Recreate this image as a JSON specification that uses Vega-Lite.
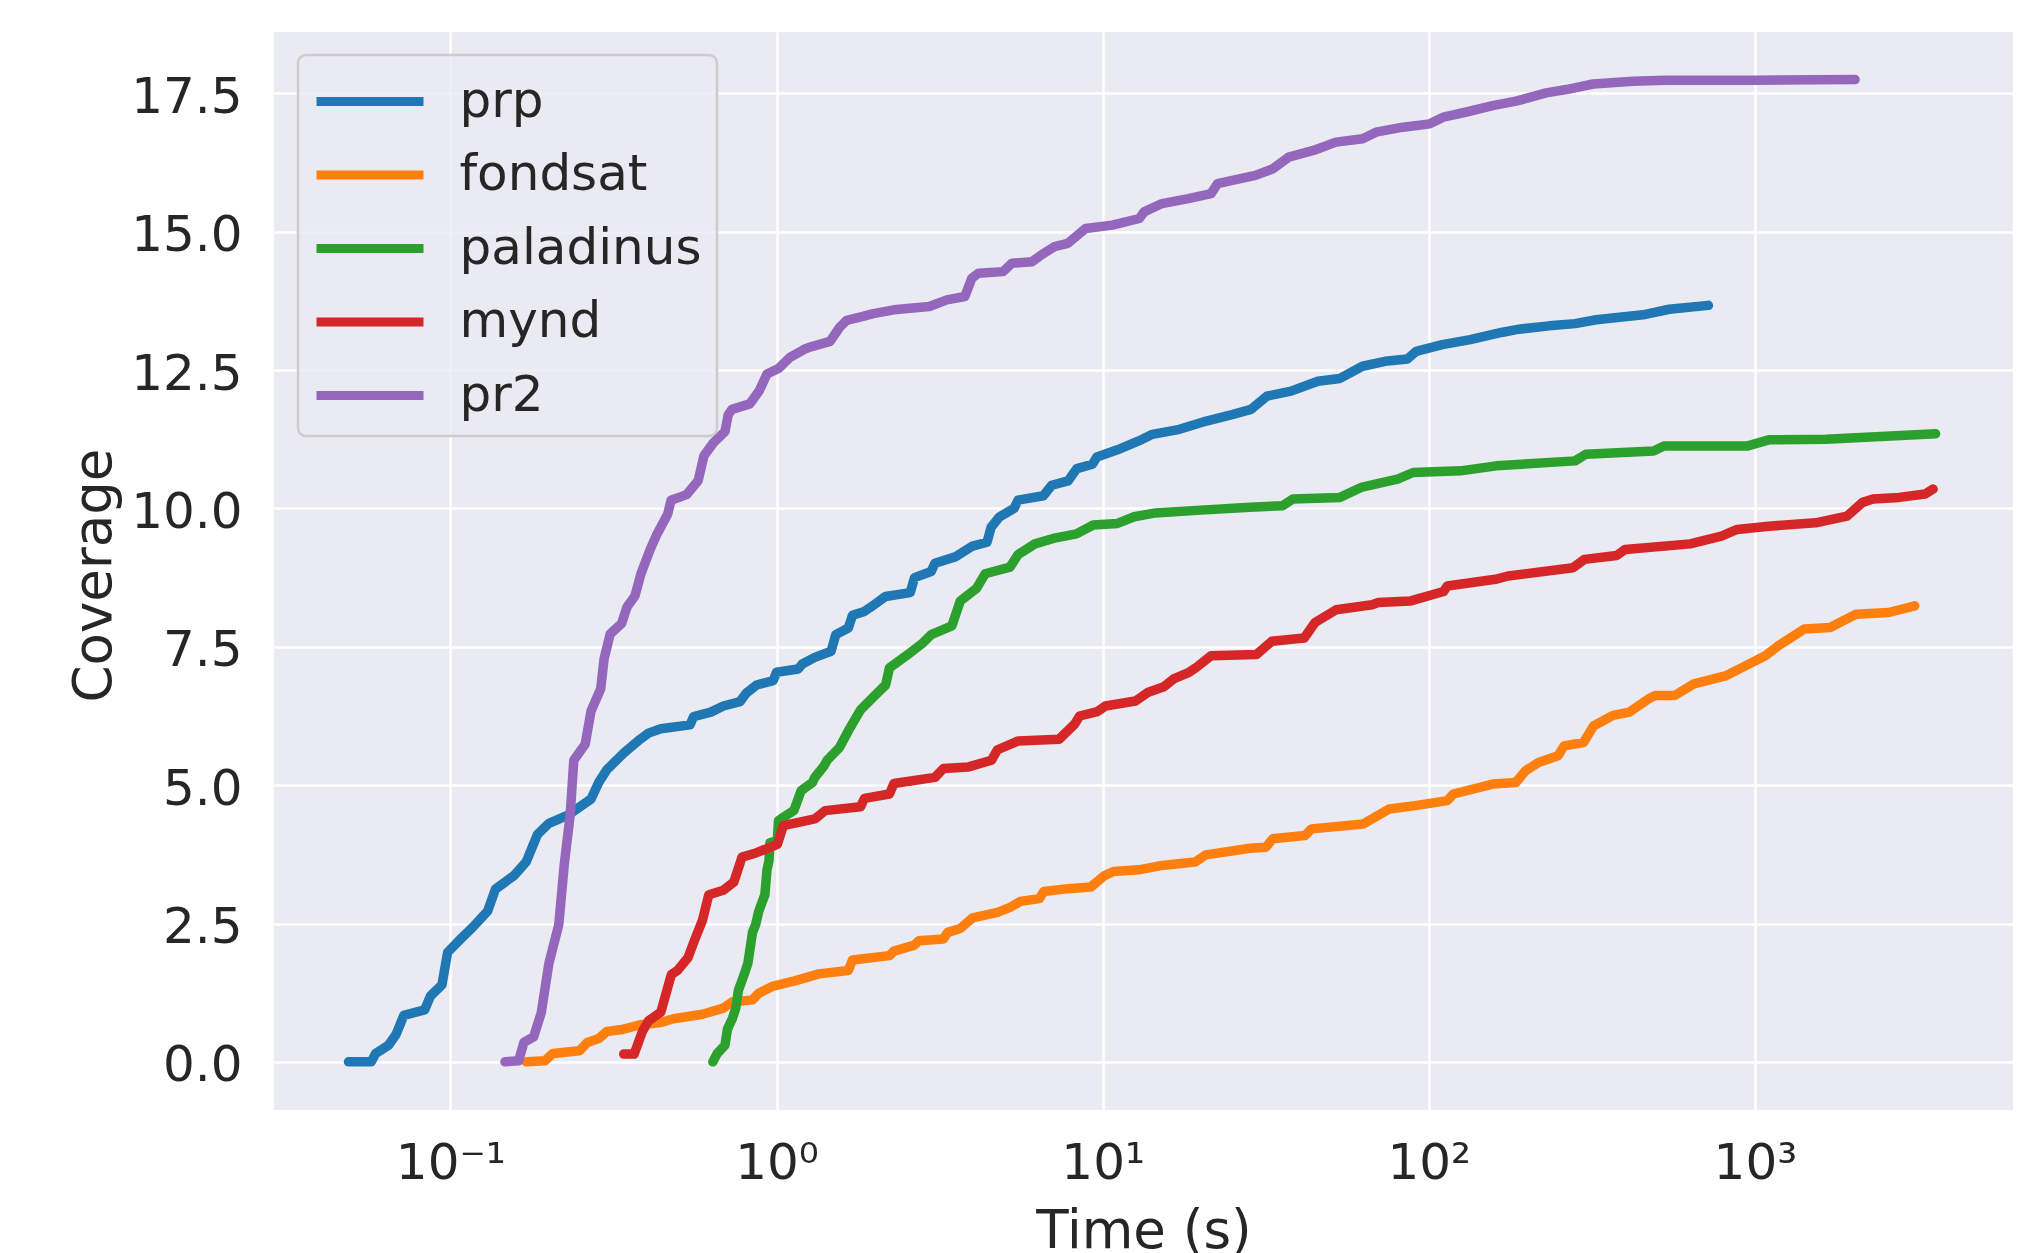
{
  "$schema": "https://vega.github.io/schema/vega-lite/v6.json",
  "width": 1739,
  "height": 1078,
  "autosize": {"type": "none"},
  "padding": {"left": 274, "top": 32, "right": 4, "bottom": 143},
  "background": "white",
  "config": {
    "view": {"fill": "#EAEAF2", "stroke": null},
    "axis": {
      "gridColor": "white", "gridWidth": 2.5, "gridOpacity": 1,
      "domain": false, "ticks": false, "tickSize": 0,
      "labelFont": "DejaVu Sans", "labelColor": "#262626", "labelFontSize": 50,
      "titleFont": "DejaVu Sans", "titleColor": "#262626", "titleFontSize": 53, "titleFontWeight": "normal"
    },
    "legend": {
      "orient": "none", "legendX": 24, "legendY": 23,
      "symbolType": "M-2,0H2", "symbolSize": 2862, "symbolStrokeWidth": 9,
      "labelFont": "DejaVu Sans", "labelFontSize": 50, "labelColor": "#262626", "labelLimit": 0,
      "padding": 15, "rowPadding": 16.5, "symbolOffset": 25.5, "labelOffset": 58,
      "fillColor": "rgba(234,234,242,0.8)", "strokeColor": "#cccccc", "strokeWidth": 2.5, "cornerRadius": 8
    }
  },
  "data": {"values": [
    {"s":"prp","t":0.0487,"c":0},{"s":"prp","t":0.0572,"c":0},{"s":"prp","t":0.059,"c":0.15},{"s":"prp","t":0.0646,"c":0.3},{"s":"prp","t":0.0682,"c":0.5},{"s":"prp","t":0.072,"c":0.84},{"s":"prp","t":0.0834,"c":0.94},{"s":"prp","t":0.0869,"c":1.19},{"s":"prp","t":0.0942,"c":1.39},{"s":"prp","t":0.0981,"c":1.98},{"s":"prp","t":0.108,"c":2.23},{"s":"prp","t":0.117,"c":2.43},{"s":"prp","t":0.13,"c":2.72},{"s":"prp","t":0.1375,"c":3.12},{"s":"prp","t":0.157,"c":3.37},{"s":"prp","t":0.171,"c":3.62},{"s":"prp","t":0.185,"c":4.11},{"s":"prp","t":0.2005,"c":4.31},{"s":"prp","t":0.2295,"c":4.46},{"s":"prp","t":0.27,"c":4.75},{"s":"prp","t":0.285,"c":5.05},{"s":"prp","t":0.302,"c":5.28},{"s":"prp","t":0.34,"c":5.58},{"s":"prp","t":0.382,"c":5.83},{"s":"prp","t":0.405,"c":5.94},{"s":"prp","t":0.442,"c":6.02},{"s":"prp","t":0.543,"c":6.09},{"s":"prp","t":0.557,"c":6.24},{"s":"prp","t":0.629,"c":6.32},{"s":"prp","t":0.687,"c":6.43},{"s":"prp","t":0.773,"c":6.51},{"s":"prp","t":0.807,"c":6.66},{"s":"prp","t":0.869,"c":6.81},{"s":"prp","t":0.977,"c":6.89},{"s":"prp","t":1.0,"c":7.04},{"s":"prp","t":1.165,"c":7.1},{"s":"prp","t":1.2,"c":7.19},{"s":"prp","t":1.31,"c":7.31},{"s":"prp","t":1.47,"c":7.42},{"s":"prp","t":1.52,"c":7.72},{"s":"prp","t":1.66,"c":7.84},{"s":"prp","t":1.71,"c":8.07},{"s":"prp","t":1.86,"c":8.14},{"s":"prp","t":1.98,"c":8.25},{"s":"prp","t":2.16,"c":8.41},{"s":"prp","t":2.57,"c":8.48},{"s":"prp","t":2.65,"c":8.75},{"s":"prp","t":2.98,"c":8.86},{"s":"prp","t":3.06,"c":9.01},{"s":"prp","t":3.55,"c":9.13},{"s":"prp","t":3.99,"c":9.32},{"s":"prp","t":4.42,"c":9.39},{"s":"prp","t":4.55,"c":9.66},{"s":"prp","t":4.83,"c":9.85},{"s":"prp","t":5.35,"c":10.0},{"s":"prp","t":5.5,"c":10.15},{"s":"prp","t":6.58,"c":10.23},{"s":"prp","t":6.98,"c":10.42},{"s":"prp","t":7.84,"c":10.5},{"s":"prp","t":8.33,"c":10.72},{"s":"prp","t":9.3,"c":10.8},{"s":"prp","t":9.6,"c":10.93},{"s":"prp","t":11.1,"c":11.06},{"s":"prp","t":12.9,"c":11.22},{"s":"prp","t":14.2,"c":11.34},{"s":"prp","t":17.2,"c":11.43},{"s":"prp","t":20.8,"c":11.58},{"s":"prp","t":25.1,"c":11.7},{"s":"prp","t":28.5,"c":11.79},{"s":"prp","t":31.9,"c":12.03},{"s":"prp","t":37.8,"c":12.12},{"s":"prp","t":45.7,"c":12.3},{"s":"prp","t":53.4,"c":12.35},{"s":"prp","t":62.6,"c":12.57},{"s":"prp","t":73.4,"c":12.66},{"s":"prp","t":86,"c":12.7},{"s":"prp","t":91.5,"c":12.84},{"s":"prp","t":110,"c":12.96},{"s":"prp","t":134,"c":13.05},{"s":"prp","t":167,"c":13.18},{"s":"prp","t":189,"c":13.24},{"s":"prp","t":234,"c":13.3},{"s":"prp","t":281,"c":13.34},{"s":"prp","t":326,"c":13.41},{"s":"prp","t":454,"c":13.5},{"s":"prp","t":546,"c":13.6},{"s":"prp","t":720,"c":13.67},
    {"s":"fondsat","t":0.171,"c":0},{"s":"fondsat","t":0.195,"c":0.02},{"s":"fondsat","t":0.206,"c":0.15},{"s":"fondsat","t":0.249,"c":0.2},{"s":"fondsat","t":0.263,"c":0.35},{"s":"fondsat","t":0.285,"c":0.42},{"s":"fondsat","t":0.302,"c":0.55},{"s":"fondsat","t":0.34,"c":0.59},{"s":"fondsat","t":0.382,"c":0.67},{"s":"fondsat","t":0.442,"c":0.71},{"s":"fondsat","t":0.483,"c":0.78},{"s":"fondsat","t":0.593,"c":0.86},{"s":"fondsat","t":0.687,"c":0.97},{"s":"fondsat","t":0.73,"c":1.08},{"s":"fondsat","t":0.844,"c":1.12},{"s":"fondsat","t":0.882,"c":1.24},{"s":"fondsat","t":0.977,"c":1.37},{"s":"fondsat","t":1.13,"c":1.46},{"s":"fondsat","t":1.35,"c":1.59},{"s":"fondsat","t":1.66,"c":1.65},{"s":"fondsat","t":1.71,"c":1.84},{"s":"fondsat","t":2.22,"c":1.92},{"s":"fondsat","t":2.29,"c":2.0},{"s":"fondsat","t":2.65,"c":2.11},{"s":"fondsat","t":2.73,"c":2.19},{"s":"fondsat","t":3.25,"c":2.22},{"s":"fondsat","t":3.35,"c":2.34},{"s":"fondsat","t":3.66,"c":2.41},{"s":"fondsat","t":3.99,"c":2.6},{"s":"fondsat","t":4.76,"c":2.7},{"s":"fondsat","t":5.2,"c":2.79},{"s":"fondsat","t":5.6,"c":2.9},{"s":"fondsat","t":6.4,"c":2.95},{"s":"fondsat","t":6.6,"c":3.08},{"s":"fondsat","t":7.84,"c":3.13},{"s":"fondsat","t":9.2,"c":3.16},{"s":"fondsat","t":10.1,"c":3.36},{"s":"fondsat","t":10.8,"c":3.44},{"s":"fondsat","t":12.9,"c":3.47},{"s":"fondsat","t":15.2,"c":3.55},{"s":"fondsat","t":19.2,"c":3.61},{"s":"fondsat","t":20.7,"c":3.74},{"s":"fondsat","t":28.3,"c":3.86},{"s":"fondsat","t":31.7,"c":3.88},{"s":"fondsat","t":33.2,"c":4.03},{"s":"fondsat","t":41.7,"c":4.09},{"s":"fondsat","t":43.7,"c":4.21},{"s":"fondsat","t":63,"c":4.3},{"s":"fondsat","t":75.7,"c":4.57},{"s":"fondsat","t":90.8,"c":4.63},{"s":"fondsat","t":114,"c":4.72},{"s":"fondsat","t":119,"c":4.84},{"s":"fondsat","t":157,"c":5.02},{"s":"fondsat","t":185,"c":5.05},{"s":"fondsat","t":198,"c":5.26},{"s":"fondsat","t":217,"c":5.41},{"s":"fondsat","t":249,"c":5.53},{"s":"fondsat","t":260,"c":5.71},{"s":"fondsat","t":298,"c":5.77},{"s":"fondsat","t":320,"c":6.07},{"s":"fondsat","t":367,"c":6.26},{"s":"fondsat","t":412,"c":6.32},{"s":"fondsat","t":472,"c":6.56},{"s":"fondsat","t":495,"c":6.62},{"s":"fondsat","t":567,"c":6.62},{"s":"fondsat","t":650,"c":6.83},{"s":"fondsat","t":746,"c":6.92},{"s":"fondsat","t":817,"c":6.98},{"s":"fondsat","t":938,"c":7.16},{"s":"fondsat","t":1076,"c":7.34},{"s":"fondsat","t":1180,"c":7.52},{"s":"fondsat","t":1292,"c":7.67},{"s":"fondsat","t":1416,"c":7.82},{"s":"fondsat","t":1702,"c":7.85},{"s":"fondsat","t":1864,"c":7.97},{"s":"fondsat","t":2042,"c":8.09},{"s":"fondsat","t":2570,"c":8.12},{"s":"fondsat","t":3090,"c":8.24},
    {"s":"paladinus","t":0.638,"c":0},{"s":"paladinus","t":0.658,"c":0.15},{"s":"paladinus","t":0.695,"c":0.3},{"s":"paladinus","t":0.707,"c":0.59},{"s":"paladinus","t":0.733,"c":0.79},{"s":"paladinus","t":0.75,"c":0.97},{"s":"paladinus","t":0.764,"c":1.29},{"s":"paladinus","t":0.796,"c":1.58},{"s":"paladinus","t":0.817,"c":1.78},{"s":"paladinus","t":0.844,"c":2.34},{"s":"paladinus","t":0.863,"c":2.48},{"s":"paladinus","t":0.882,"c":2.72},{"s":"paladinus","t":0.921,"c":3.02},{"s":"paladinus","t":0.935,"c":3.47},{"s":"paladinus","t":0.948,"c":3.63},{"s":"paladinus","t":0.955,"c":3.96},{"s":"paladinus","t":1.006,"c":4.0},{"s":"paladinus","t":1.014,"c":4.36},{"s":"paladinus","t":1.05,"c":4.42},{"s":"paladinus","t":1.13,"c":4.54},{"s":"paladinus","t":1.19,"c":4.9},{"s":"paladinus","t":1.29,"c":5.05},{"s":"paladinus","t":1.31,"c":5.14},{"s":"paladinus","t":1.4,"c":5.35},{"s":"paladinus","t":1.43,"c":5.45},{"s":"paladinus","t":1.56,"c":5.68},{"s":"paladinus","t":1.66,"c":5.98},{"s":"paladinus","t":1.81,"c":6.36},{"s":"paladinus","t":1.98,"c":6.59},{"s":"paladinus","t":2.16,"c":6.81},{"s":"paladinus","t":2.22,"c":7.12},{"s":"paladinus","t":2.5,"c":7.34},{"s":"paladinus","t":2.81,"c":7.57},{"s":"paladinus","t":2.98,"c":7.72},{"s":"paladinus","t":3.45,"c":7.88},{"s":"paladinus","t":3.66,"c":8.33},{"s":"paladinus","t":4.11,"c":8.56},{"s":"paladinus","t":4.36,"c":8.82},{"s":"paladinus","t":5.2,"c":8.94},{"s":"paladinus","t":5.51,"c":9.17},{"s":"paladinus","t":6.2,"c":9.36},{"s":"paladinus","t":7.18,"c":9.47},{"s":"paladinus","t":8.31,"c":9.54},{"s":"paladinus","t":9.35,"c":9.7},{"s":"paladinus","t":11.1,"c":9.73},{"s":"paladinus","t":12.5,"c":9.85},{"s":"paladinus","t":14.5,"c":9.92},{"s":"paladinus","t":20,"c":9.97},{"s":"paladinus","t":28.3,"c":10.02},{"s":"paladinus","t":35.6,"c":10.05},{"s":"paladinus","t":38.3,"c":10.17},{"s":"paladinus","t":53.4,"c":10.2},{"s":"paladinus","t":62,"c":10.38},{"s":"paladinus","t":80.2,"c":10.53},{"s":"paladinus","t":89.5,"c":10.65},{"s":"paladinus","t":125,"c":10.68},{"s":"paladinus","t":161,"c":10.77},{"s":"paladinus","t":281,"c":10.86},{"s":"paladinus","t":303,"c":10.98},{"s":"paladinus","t":489,"c":11.04},{"s":"paladinus","t":526,"c":11.13},{"s":"paladinus","t":951,"c":11.13},{"s":"paladinus","t":1102,"c":11.24},{"s":"paladinus","t":1652,"c":11.25},{"s":"paladinus","t":3581,"c":11.35},
    {"s":"mynd","t":0.34,"c":0.14},{"s":"mynd","t":0.366,"c":0.14},{"s":"mynd","t":0.388,"c":0.55},{"s":"mynd","t":0.405,"c":0.74},{"s":"mynd","t":0.442,"c":0.9},{"s":"mynd","t":0.476,"c":1.58},{"s":"mynd","t":0.497,"c":1.65},{"s":"mynd","t":0.535,"c":1.88},{"s":"mynd","t":0.56,"c":2.19},{"s":"mynd","t":0.593,"c":2.56},{"s":"mynd","t":0.62,"c":3.02},{"s":"mynd","t":0.687,"c":3.1},{"s":"mynd","t":0.74,"c":3.25},{"s":"mynd","t":0.784,"c":3.7},{"s":"mynd","t":0.869,"c":3.78},{"s":"mynd","t":1.006,"c":3.93},{"s":"mynd","t":1.05,"c":4.27},{"s":"mynd","t":1.31,"c":4.39},{"s":"mynd","t":1.41,"c":4.54},{"s":"mynd","t":1.81,"c":4.61},{"s":"mynd","t":1.86,"c":4.76},{"s":"mynd","t":2.22,"c":4.84},{"s":"mynd","t":2.29,"c":5.03},{"s":"mynd","t":3.06,"c":5.14},{"s":"mynd","t":3.25,"c":5.3},{"s":"mynd","t":3.88,"c":5.33},{"s":"mynd","t":4.56,"c":5.45},{"s":"mynd","t":4.76,"c":5.64},{"s":"mynd","t":5.51,"c":5.8},{"s":"mynd","t":7.35,"c":5.83},{"s":"mynd","t":8.2,"c":6.1},{"s":"mynd","t":8.5,"c":6.25},{"s":"mynd","t":9.63,"c":6.33},{"s":"mynd","t":10.2,"c":6.43},{"s":"mynd","t":12.6,"c":6.52},{"s":"mynd","t":13.8,"c":6.68},{"s":"mynd","t":15.4,"c":6.78},{"s":"mynd","t":16.5,"c":6.92},{"s":"mynd","t":18.4,"c":7.04},{"s":"mynd","t":19.3,"c":7.12},{"s":"mynd","t":21.5,"c":7.34},{"s":"mynd","t":29.6,"c":7.36},{"s":"mynd","t":33,"c":7.6},{"s":"mynd","t":41.5,"c":7.66},{"s":"mynd","t":44.8,"c":7.94},{"s":"mynd","t":52,"c":8.17},{"s":"mynd","t":67,"c":8.26},{"s":"mynd","t":70,"c":8.3},{"s":"mynd","t":88,"c":8.33},{"s":"mynd","t":111,"c":8.5},{"s":"mynd","t":114,"c":8.6},{"s":"mynd","t":160,"c":8.72},{"s":"mynd","t":175,"c":8.78},{"s":"mynd","t":277,"c":8.93},{"s":"mynd","t":300,"c":9.08},{"s":"mynd","t":377,"c":9.15},{"s":"mynd","t":400,"c":9.26},{"s":"mynd","t":633,"c":9.36},{"s":"mynd","t":789,"c":9.5},{"s":"mynd","t":882,"c":9.62},{"s":"mynd","t":1102,"c":9.68},{"s":"mynd","t":1535,"c":9.74},{"s":"mynd","t":1915,"c":9.86},{"s":"mynd","t":2138,"c":10.11},{"s":"mynd","t":2300,"c":10.17},{"s":"mynd","t":2767,"c":10.2},{"s":"mynd","t":3327,"c":10.26},{"s":"mynd","t":3517,"c":10.35},
    {"s":"pr2","t":0.147,"c":0},{"s":"pr2","t":0.162,"c":0.02},{"s":"pr2","t":0.168,"c":0.35},{"s":"pr2","t":0.18,"c":0.45},{"s":"pr2","t":0.19,"c":0.89},{"s":"pr2","t":0.2005,"c":1.78},{"s":"pr2","t":0.215,"c":2.48},{"s":"pr2","t":0.2235,"c":3.57},{"s":"pr2","t":0.233,"c":4.46},{"s":"pr2","t":0.239,"c":5.45},{"s":"pr2","t":0.259,"c":5.74},{"s":"pr2","t":0.27,"c":6.34},{"s":"pr2","t":0.289,"c":6.74},{"s":"pr2","t":0.296,"c":7.28},{"s":"pr2","t":0.309,"c":7.73},{"s":"pr2","t":0.335,"c":7.92},{"s":"pr2","t":0.348,"c":8.22},{"s":"pr2","t":0.368,"c":8.42},{"s":"pr2","t":0.384,"c":8.82},{"s":"pr2","t":0.41,"c":9.26},{"s":"pr2","t":0.428,"c":9.51},{"s":"pr2","t":0.464,"c":9.9},{"s":"pr2","t":0.475,"c":10.15},{"s":"pr2","t":0.53,"c":10.25},{"s":"pr2","t":0.575,"c":10.5},{"s":"pr2","t":0.599,"c":10.95},{"s":"pr2","t":0.641,"c":11.19},{"s":"pr2","t":0.695,"c":11.39},{"s":"pr2","t":0.711,"c":11.69},{"s":"pr2","t":0.73,"c":11.79},{"s":"pr2","t":0.828,"c":11.89},{"s":"pr2","t":0.886,"c":12.13},{"s":"pr2","t":0.935,"c":12.43},{"s":"pr2","t":1.014,"c":12.53},{"s":"pr2","t":1.1,"c":12.73},{"s":"pr2","t":1.22,"c":12.88},{"s":"pr2","t":1.29,"c":12.93},{"s":"pr2","t":1.46,"c":13.02},{"s":"pr2","t":1.56,"c":13.27},{"s":"pr2","t":1.64,"c":13.4},{"s":"pr2","t":1.84,"c":13.47},{"s":"pr2","t":1.98,"c":13.52},{"s":"pr2","t":2.29,"c":13.59},{"s":"pr2","t":2.94,"c":13.65},{"s":"pr2","t":3.33,"c":13.77},{"s":"pr2","t":3.78,"c":13.83},{"s":"pr2","t":3.97,"c":14.16},{"s":"pr2","t":4.16,"c":14.25},{"s":"pr2","t":4.95,"c":14.28},{"s":"pr2","t":5.27,"c":14.43},{"s":"pr2","t":6.08,"c":14.46},{"s":"pr2","t":6.48,"c":14.58},{"s":"pr2","t":7.11,"c":14.73},{"s":"pr2","t":7.82,"c":14.79},{"s":"pr2","t":8.87,"c":15.06},{"s":"pr2","t":10.7,"c":15.12},{"s":"pr2","t":12.95,"c":15.24},{"s":"pr2","t":13.4,"c":15.36},{"s":"pr2","t":15.2,"c":15.51},{"s":"pr2","t":18.3,"c":15.6},{"s":"pr2","t":21.5,"c":15.69},{"s":"pr2","t":22.5,"c":15.87},{"s":"pr2","t":29.4,"c":16.02},{"s":"pr2","t":33.3,"c":16.14},{"s":"pr2","t":37.2,"c":16.35},{"s":"pr2","t":44.3,"c":16.47},{"s":"pr2","t":51.9,"c":16.62},{"s":"pr2","t":62.7,"c":16.68},{"s":"pr2","t":68.9,"c":16.8},{"s":"pr2","t":83.3,"c":16.89},{"s":"pr2","t":100.7,"c":16.95},{"s":"pr2","t":110.7,"c":17.07},{"s":"pr2","t":129.5,"c":17.16},{"s":"pr2","t":157,"c":17.28},{"s":"pr2","t":185,"c":17.36},{"s":"pr2","t":199,"c":17.41},{"s":"pr2","t":229,"c":17.51},{"s":"pr2","t":264,"c":17.57},{"s":"pr2","t":319,"c":17.67},{"s":"pr2","t":423,"c":17.72},{"s":"pr2","t":535,"c":17.74},{"s":"pr2","t":1000,"c":17.74},{"s":"pr2","t":2028,"c":17.75}
  ]},
  "mark": {"type": "line", "strokeWidth": 9.5, "strokeCap": "round", "strokeJoin": "round", "clip": true},
  "encoding": {
    "x": {
      "field": "t", "type": "quantitative",
      "scale": {"type": "log", "domain": [0.02879, 6184], "nice": false},
      "axis": {
        "values": [0.1, 1, 10, 100, 1000],
        "labelExpr": "datum.value < 0.5 ? '10⁻¹' : datum.value < 5 ? '10⁰' : datum.value < 50 ? '10¹' : datum.value < 500 ? '10²' : '10³'",
        "labelPadding": 28, "grid": true,
        "title": "Time (s)", "titleY": 137, "titleBaseline": "alphabetic"
      }
    },
    "y": {
      "field": "c", "type": "quantitative",
      "scale": {"domain": [-0.87, 18.61], "nice": false, "zero": false},
      "axis": {
        "values": [0, 2.5, 5, 7.5, 10, 12.5, 15, 17.5],
        "format": ".1f", "labelPadding": 32, "labelOffset": 4, "grid": true,
        "title": "Coverage", "titleX": -164, "titleY": 543, "titleAngle": -90,
        "titleBaseline": "alphabetic", "titleAlign": "center"
      }
    },
    "color": {
      "field": "s", "type": "nominal",
      "scale": {"domain": ["prp", "fondsat", "paladinus", "mynd", "pr2"], "range": ["#1f77b4", "#ff7f0e", "#2ca02c", "#d62728", "#9467bd"]},
      "legend": {"title": null}
    }
  }
}
